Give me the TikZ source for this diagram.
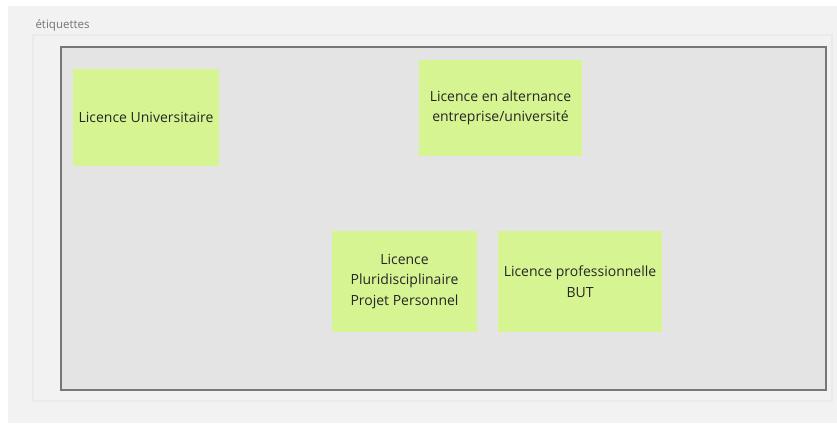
\documentclass[tikz,border=0pt]{standalone}
\usepackage{fontspec}
\setmainfont{Open Sans}
\definecolor{panel}{HTML}{F2F2F2}
\definecolor{frameline}{HTML}{EAEAEA}
\definecolor{board}{HTML}{E4E4E4}
\definecolor{boardline}{HTML}{777777}
\definecolor{stickygreen}{HTML}{D6F592}
\tikzset{
  sticky/.style={fill=stickygreen, draw=none, align=center, inner sep=2pt,
    font=\fontsize{14}{20.5}\selectfont, text=black!85},
}
\begin{document}
\begin{tikzpicture}[x=1pt, y=-1pt]
    % page and frame
    \useasboundingbox (0,0) rectangle (837,423);
    \fill[white] (0,0) rectangle (837,423);
    \fill[panel] (8,6) rectangle (837,423);
    \draw[frameline, line width=1.2pt] (33,35) rectangle (832,401);
    \node[anchor=base west, font=\fontsize{11.5}{13}\selectfont, text=black!55] (title) at (32,28) {étiquettes};

    % board
    \draw[fill=board, draw=boardline, line width=1.8pt] (61,47) rectangle (826,390);

    % sticky notes
    \node[sticky, minimum width=146pt, minimum height=97pt] (univ) at (146,117.5) {Licence Universitaire};
    \node[sticky, minimum width=163pt, minimum height=96pt] (alt) at (500.5,108) {Licence en alternance\\entreprise/université};
    \node[sticky, minimum width=145pt, minimum height=101pt] (pluri) at (404.5,281.5) {Licence\\Pluridisciplinaire\\Projet Personnel};
    \node[sticky, minimum width=164pt, minimum height=101pt] (pro) at (580,281.5) {Licence professionnelle\\BUT};
\end{tikzpicture}
\end{document}
